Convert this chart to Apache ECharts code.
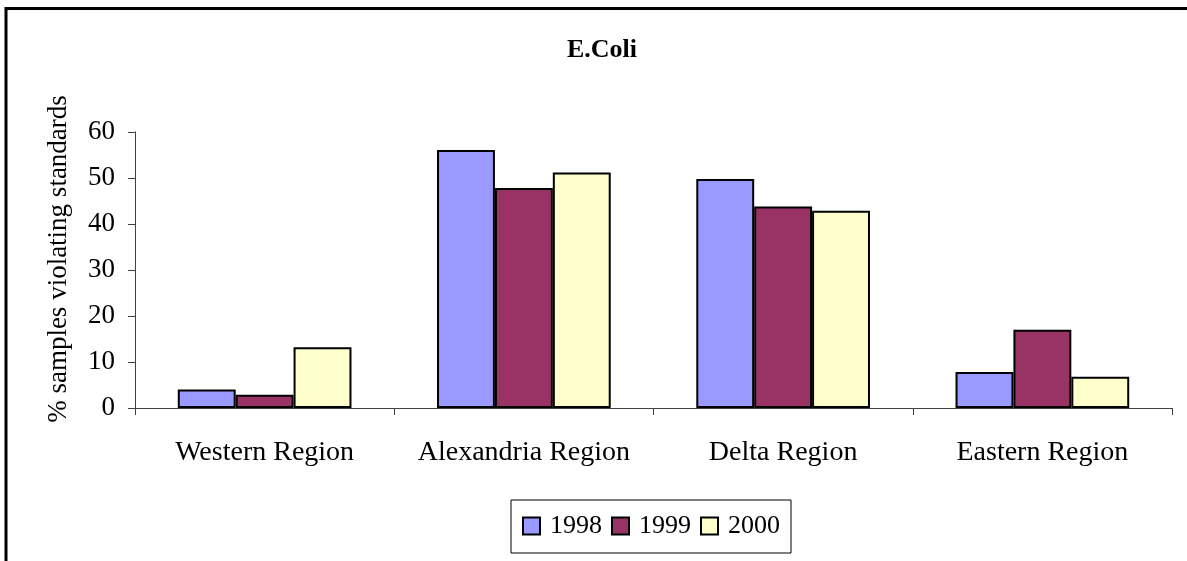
<!DOCTYPE html>
<html>
<head>
<meta charset="utf-8">
<script src="https://cdn.jsdelivr.net/npm/echarts@6/dist/echarts.min.js"></script>
<style>
html,body{margin:0;padding:0;background:#fff;}
#chart{width:1187px;height:561px;}
</style>
</head>
<body>
<div id="chart"></div>
<script>
const categories = ['Western Region', 'Alexandria Region', 'Delta Region', 'Eastern Region'];
const seriesNames = ['1998', '1999', '2000'];
const values1998 = [4, 56.1, 49.8, 7.8];
const values1999 = [2.9, 47.8, 43.8, 17];
const values2000 = [13.2, 51.2, 42.9, 6.8];
const colors = ['#9999FF', '#993366', '#FFFFCC'];
const yTicks = { min: 0, max: 60, interval: 10 };

const FONT = '"Liberation Serif", "Times New Roman", serif';
const chart = echarts.init(document.getElementById('chart'), null, { renderer: 'canvas' });

const allValues = [values1998, values1999, values2000];
const option = {
  backgroundColor: '#ffffff',
  animation: false,
  title: {
    text: 'E.Coli',
    left: 567,
    top: 37,
    padding: 0,
    textStyle: { fontFamily: FONT, fontSize: 26, fontWeight: 'bold', color: '#000' }
  },
  legend: {
    data: seriesNames,
    left: 511,
    top: 500,
    orient: 'horizontal',
    icon: 'rect',
    padding: [13, 11, 14, 11],
    itemWidth: 17,
    itemHeight: 17,
    itemGap: 9,
    borderColor: '#000',
    borderWidth: 1,
    textStyle: { fontFamily: FONT, fontSize: 26, color: '#000', padding: [0, 0, 0, 5] }
  },
  grid: { left: 135, right: 15, top: 132, bottom: 153, containLabel: false },
  xAxis: {
    type: 'category',
    data: categories,
    axisLine: { lineStyle: { color: '#404040', width: 1 } },
    axisTick: { show: true, length: 7, interval: 0, lineStyle: { color: '#404040' } },
    axisLabel: { fontFamily: FONT, fontSize: 28, color: '#000', margin: 31, interval: 0, hideOverlap: false }
  },
  yAxis: {
    type: 'value',
    min: yTicks.min,
    max: yTicks.max,
    interval: yTicks.interval,
    splitLine: { show: false },
    axisLine: { show: true, lineStyle: { color: '#404040', width: 1 } },
    axisTick: { show: true, length: 7, lineStyle: { color: '#404040' } },
    axisLabel: { fontFamily: FONT, fontSize: 27, color: '#000', margin: 20 }
  },
  graphic: [
    {
      type: 'rect',
      shape: { x: 6, y: 8.5, width: 1400, height: 800 },
      style: { fill: 'none', stroke: '#000', lineWidth: 3 },
      silent: true
    },
    {
      type: 'text',
      x: 59,
      y: 259,
      rotation: Math.PI / 2,
      style: {
        text: '% samples violating standards',
        font: '27px ' + FONT,
        fill: '#000',
        align: 'center',
        verticalAlign: 'middle'
      }
    }
  ],
  series: seriesNames.map((name, i) => ({
    name: name,
    type: 'bar',
    data: allValues[i],
    barGap: '0%',
    barCategoryGap: '33%',
    itemStyle: { color: colors[i], borderColor: '#000', borderWidth: 2 }
  }))
};
chart.setOption(option);
</script>
</body>
</html>
